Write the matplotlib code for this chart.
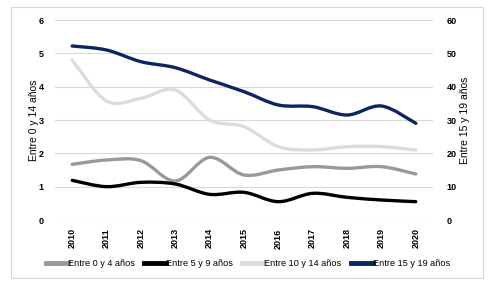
import numpy as np
import matplotlib.pyplot as plt
from matplotlib.path import Path
from matplotlib.patches import PathPatch, Rectangle
from matplotlib.lines import Line2D

years = ["2010", "2011", "2012", "2013", "2014", "2015", "2016", "2017", "2018", "2019", "2020"]
age_0_4 = [1.67, 1.80, 1.78, 1.17, 1.88, 1.35, 1.50, 1.60, 1.55, 1.60, 1.38]
age_5_9 = [1.19, 1.00, 1.13, 1.08, 0.77, 0.83, 0.55, 0.80, 0.68, 0.60, 0.55]
age_10_14 = [4.80, 3.57, 3.65, 3.90, 3.00, 2.80, 2.20, 2.10, 2.20, 2.20, 2.10]
age_15_19 = [52.2, 51.0, 47.5, 45.7, 42.0, 38.5, 34.5, 34.0, 31.5, 34.2, 29.0]

labels = ["Entre 0 y 4 años", "Entre 5 y 9 años", "Entre 10 y 14 años", "Entre 15 y 19 años"]
colors = ["#999999", "#000000", "#dcdcdc", "#0c2461"]
LW = 2.4

plt.rcParams["font.family"] = ["Liberation Sans", "DejaVu Sans"]


def smooth_path(x, y):
    # Catmull-Rom style bezier, like spreadsheet "smoothed line"
    x = np.asarray(x, float)
    y = np.asarray(y, float)
    verts = [(x[0], y[0])]
    codes = [Path.MOVETO]
    n = len(x)
    for i in range(n - 1):
        p0 = (x[max(i - 1, 0)], y[max(i - 1, 0)])
        p1 = (x[i], y[i])
        p2 = (x[i + 1], y[i + 1])
        p3 = (x[min(i + 2, n - 1)], y[min(i + 2, n - 1)])
        c1 = (p1[0] + (p2[0] - p0[0]) / 6, p1[1] + (p2[1] - p0[1]) / 6)
        c2 = (p2[0] - (p3[0] - p1[0]) / 6, p2[1] - (p3[1] - p1[1]) / 6)
        verts += [c1, c2, p2]
        codes += [Path.CURVE4] * 3
    return Path(verts, codes)


fig = plt.figure(figsize=(4.93, 2.84), dpi=100)
fig.patches.append(Rectangle((11 / 493, 1 - 278 / 284), 472 / 493, 271 / 284,
                             transform=fig.transFigure, fill=False,
                             edgecolor="#d9d9d9", linewidth=0.8))

ax = fig.add_axes([55 / 493, 1 - 220 / 284, 378 / 493, 200 / 284])
ax2 = ax.twinx()

xs = np.arange(len(years))
for vals, col in zip([age_10_14, age_0_4, age_5_9], [colors[2], colors[0], colors[1]]):
    ax.add_patch(PathPatch(smooth_path(xs, vals), fill=False, edgecolor=col,
                           linewidth=LW, capstyle="round", joinstyle="round", zorder=3))
ax2.add_patch(PathPatch(smooth_path(xs, age_15_19), fill=False, edgecolor=colors[3],
                        linewidth=LW, capstyle="round", joinstyle="round", zorder=3))

ax.set_xlim(-0.5, len(years) - 0.5)
ax.set_ylim(0, 6)
ax2.set_ylim(0, 60)
ax.set_yticks(range(0, 7))
ax2.set_yticks(range(0, 61, 10))
ax.set_xticks(xs)
ax.set_xticklabels(years, rotation=90, fontsize=6.5, fontweight="bold")
ax.grid(axis="y", color="#d9d9d9", linewidth=0.8)
ax.set_axisbelow(True)

for a in (ax, ax2):
    for s in a.spines.values():
        s.set_visible(False)
    a.tick_params(length=0, labelsize=6.5)
for t in ax.get_yticklabels() + ax2.get_yticklabels():
    t.set_fontweight("bold")
ax.tick_params(axis="y", pad=8)
ax.tick_params(axis="x", pad=6)
ax2.tick_params(axis="y", pad=10)

ax.set_ylabel("Entre 0 y 14 años", fontsize=7.5, labelpad=0)
ax2.set_ylabel("Entre 15 y 19 años", fontsize=7.5, labelpad=2)

handles = [Line2D([], [], color=c, linewidth=3.5) for c in colors]
fig.legend(handles, labels, loc="center", bbox_to_anchor=(0.503, 1 - 264 / 284),
           ncol=4, frameon=False, handlelength=2.4,
           handletextpad=0.0, columnspacing=1.0, prop={"size": 6.6})

fig.savefig("out.png", dpi=100)
